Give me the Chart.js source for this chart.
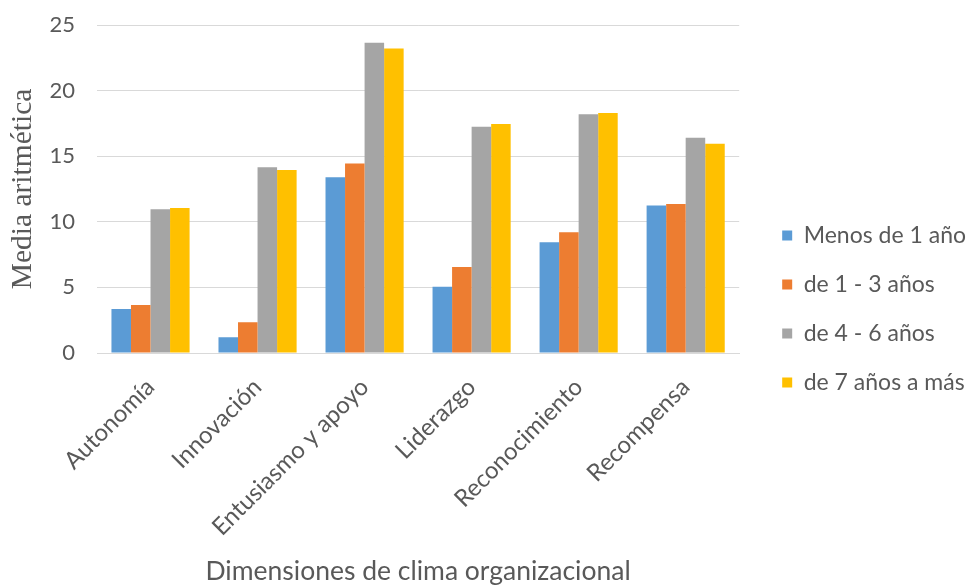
<!DOCTYPE html>
<html>
<head>
<meta charset="utf-8">
<script src="https://cdn.jsdelivr.net/npm/chart.js@4"></script>
<style>
  html, body { margin: 0; padding: 0; background: #fff; }
  #wrap { width: 976px; height: 587px; }
</style>
</head>
<body>
<div id="wrap"><canvas id="chart" width="976" height="587"></canvas></div>
<script>
const dimensiones = ["Autonomía", "Innovación", "Entusiasmo y apoyo", "Liderazgo", "Reconocimiento", "Recompensa"];
const menos1 = [3.35, 1.2, 13.4, 5.05, 8.45, 11.25];
const de1a3 = [3.65, 2.35, 14.45, 6.55, 9.2, 11.35];
const de4a6 = [10.95, 14.15, 23.65, 17.25, 18.2, 16.4];
const de7mas = [11.05, 13.95, 23.2, 17.45, 18.3, 15.95];
const yTicks = [0, 5, 10, 15, 20, 25];

const gris = "#595959";
const fuente = "Lato";

const ctx = document.getElementById("chart").getContext("2d");
new Chart(ctx, {
    type: "bar",
    data: {
        labels: dimensiones,
        datasets: [
            {label: "Menos de 1 año", data: menos1, backgroundColor: "#5B9BD5"},
            {label: "de 1 - 3 años", data: de1a3, backgroundColor: "#ED7D31"},
            {label: "de 4 - 6 años", data: de4a6, backgroundColor: "#A5A5A5"},
            {label: "de 7 años a más", data: de7mas, backgroundColor: "#FFC000"}
        ]
    },
    options: {
        responsive: false,
        animation: false,
        layout: {padding: 0},
        datasets: {bar: {categoryPercentage: 0.73, barPercentage: 1.0}},
        plugins: {
            tooltip: {enabled: false},
            legend: {
                position: "right",
                maxWidth: 240,
                // empty title just pushes the items down a bit
                title: {display: true, text: " ", font: {size: 26}, padding: 0},
                labels: {
                    boxWidth: 10, boxHeight: 10, padding: 26,
                    color: gris,
                    font: {family: fuente, size: 23}
                }
            }
        },
        scales: {
            x: {
                grid: {display: false},
                border: {color: "#d9d9d9"},
                ticks: {
                    color: gris, maxRotation: 45, minRotation: 45, padding: 12,
                    font: {family: fuente, size: 24}
                },
                title: {
                    display: true, text: "Dimensiones de clima organizacional",
                    color: gris, font: {family: fuente, size: 26.5}, padding: {top: 10, bottom: 0}
                },
                afterFit: axis => { axis.height = 234; }
            },
            y: {
                min: 0, max: 25,
                afterBuildTicks: axis => { axis.ticks = yTicks.map(v => ({value: v})); },
                grid: {color: "#d9d9d9", lineWidth: 1, drawTicks: false},
                border: {display: false},
                ticks: {color: gris, padding: 22, font: {family: fuente, size: 22}},
                title: {
                    display: true, text: "Media aritmética",
                    color: gris, font: {family: "Liberation Serif", size: 29.5}, padding: {top: 6, bottom: 8}
                },
                afterFit: axis => { axis.width = 97; axis.paddingTop = 25; }
            },
            // blank spacer between the plot and the legend
            gap: {
                type: "linear", position: "right", display: true,
                grid: {display: false}, border: {display: false}, ticks: {display: false},
                afterFit: axis => { axis.width = 17; axis.paddingTop = 0; axis.paddingBottom = 0; }
            }
        }
    }
});
</script>
</body>
</html>
